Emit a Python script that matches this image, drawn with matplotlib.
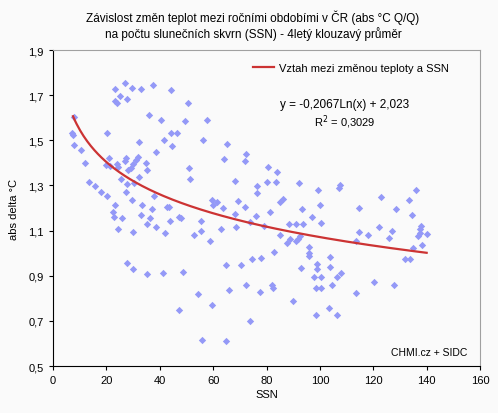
"""
plot.py - SSN vs. abs temperature change between seasons (CHMI chart remake)
"""

import numpy as np
import matplotlib
matplotlib.use("Agg")
import matplotlib.pyplot as plt

plt.rcParams['font.family'] = ['Liberation Sans', 'DejaVu Sans']

# sunspot number (4-year moving average)
ssn = [
    23.1, 27.1, 29.6, 25.0, 23.1, 24.1, 27.9, 7.9, 7.1, 7.5, 20.4, 7.9, 10.4,
    11.9, 21.0, 24.0, 26.9, 27.5, 29.1, 28.1, 25.4, 27.9, 13.4, 15.6, 18.1,
    20.4, 27.5, 23.4, 29.6, 22.5, 22.9, 25.9, 24.4, 30.1, 27.9, 30.1,
    20.0, 21.5, 24.4, 30.0, 30.4,
    32.9, 37.6, 44.4, 50.6, 36.1, 40.6, 49.4, 57.6, 44.4, 46.4, 41.6, 44.5,
    56.1, 32.1, 38.6, 31.8, 31.1, 35.0, 35.4, 32.4, 51.1, 51.4, 33.4, 37.0,
    42.7, 43.5, 38.0, 33.1, 36.4, 35.2, 38.6, 43.8, 47.2, 48.0, 55.5, 42.1,
    53.0, 55.3, 58.8, 59.4, 35.1, 41.3, 48.8, 54.3, 59.4, 47.4, 55.9,
    65.1, 64.1, 72.5, 72.1, 80.6, 84.1, 68.1, 76.6, 76.6, 80.0, 83.5, 61.4,
    59.8, 63.7, 69.5, 72.1, 86.0, 85.1, 81.4, 68.1, 76.0, 63.1, 68.5, 73.9,
    79.1, 88.4, 84.9, 87.7, 82.9, 65.0, 70.5, 74.5, 78.1, 66.0, 72.3, 77.5,
    81.9, 82.5, 73.8, 65.0,
    92.1, 99.4, 107.4, 107.1, 99.9, 93.4, 114.6, 96.9, 90.9, 93.7, 100.5,
    114.7, 118.0, 88.8, 92.7, 91.9, 90.9, 96.1, 95.9, 95.9, 103.7, 93.1,
    99.1, 99.1, 103.7, 107.8, 106.3, 97.8, 100.6, 104.6, 98.6, 100.6, 113.4,
    90.0, 103.4, 106.3, 98.4, 113.5,
    136.1, 123.0, 133.3, 128.5, 134.6, 122.2, 127.1, 125.8, 138.0, 137.6,
    137.4, 136.8, 140.1, 138.2, 134.9, 132.0, 133.6, 120.4, 127.9,
]

# abs delta °C
delta = [
    1.727, 1.753, 1.731, 1.697, 1.672, 1.665, 1.682, 1.601, 1.534, 1.524,
    1.534, 1.478, 1.456, 1.401, 1.423, 1.397, 1.409, 1.420, 1.379, 1.367,
    1.327, 1.305, 1.315, 1.299, 1.272, 1.252, 1.272, 1.213, 1.234, 1.184,
    1.160, 1.157, 1.108, 1.093, 0.956, 0.928,
    1.390, 1.385, 1.381, 1.395, 1.311,
    1.727, 1.746, 1.722, 1.666, 1.610, 1.591, 1.585, 1.592, 1.531, 1.531,
    1.503, 1.476, 1.503, 1.492, 1.446, 1.426, 1.411, 1.398, 1.369, 1.338,
    1.379, 1.330, 1.213, 1.194, 1.203, 1.203, 1.252, 1.168, 1.157, 1.130,
    1.116, 1.144, 1.160, 1.155, 1.144, 1.088, 1.080, 1.097, 1.053, 1.234,
    0.907, 0.913, 0.917, 0.817, 0.772, 0.749, 0.615,
    1.485, 1.416, 1.438, 1.409, 1.383, 1.361, 1.320, 1.298, 1.265, 1.315,
    1.315, 1.227, 1.213, 1.201, 1.231, 1.204, 1.241, 1.228, 1.184, 1.172,
    1.164, 1.108, 1.117, 1.139, 1.120, 1.130, 1.079, 1.045, 1.005, 0.946,
    0.948, 0.972, 0.979, 0.836, 0.861, 0.826, 0.857, 0.844, 0.698, 0.613,
    1.310, 1.279, 1.302, 1.287, 1.212, 1.194, 1.199, 1.160, 1.130, 1.130,
    1.135, 1.095, 1.079, 1.064, 1.076, 1.064, 1.053, 1.027, 1.002, 0.987,
    0.984, 0.934, 0.950, 0.932, 0.938, 0.913, 0.894, 0.894, 0.894, 0.861,
    0.846, 0.846, 0.824, 0.787, 0.757, 0.728, 0.724, 1.055,
    1.279, 1.249, 1.234, 1.196, 1.169, 1.117, 1.098, 1.065, 1.120, 1.105,
    1.090, 1.076, 1.086, 1.034, 1.021, 0.975, 0.975, 0.873, 0.857,
]

# log trend shown in the chart: y = a*ln(x) + b
trend_a = -0.2067
trend_b = 2.023
trend_range = [7.5, 140]

yticks = [0.5, 0.7, 0.9, 1.1, 1.3, 1.5, 1.7, 1.9]
xticks = [0, 20, 40, 60, 80, 100, 120, 140, 160]

bg = '#FAFAFA'
fig = plt.figure(figsize=(4.98, 4.14), dpi=100, facecolor=bg)
ax = fig.add_axes([0.1064, 0.1135, 0.8575, 0.7633], facecolor=bg)

ax.scatter(ssn, delta, marker='D', s=14, color='#9499F7', linewidths=0, zorder=2)

tx = np.linspace(trend_range[0], trend_range[1], 200)
ax.plot(tx, trend_a * np.log(tx) + trend_b, color='#CC3333', lw=1.6, zorder=3,
        label='Vztah mezi změnou teploty a SSN')

ax.set_xlim(0, 160)
ax.set_ylim(0.5, 1.9)
ax.set_xticks(xticks)
ax.set_yticks(yticks)
ax.set_yticklabels([f"{v:.1f}".replace('.', ',') for v in yticks])
ax.tick_params(labelsize=8, length=3, width=0.8, colors='black')

for side in ['top', 'right']:
    ax.spines[side].set_color('#A0A0A0')
for side in ['left', 'bottom']:
    ax.spines[side].set_color('black')

ax.set_xlabel('SSN', fontsize=8, labelpad=3)
ax.set_ylabel('abs delta °C', fontsize=8, labelpad=7)

fig.text(0.508, 0.958, 'Závislost změn teplot mezi ročními obdobími v ČR (abs °C Q/Q)',
         ha='center', va='center', fontsize=8.5)
fig.text(0.508, 0.918, 'na počtu slunečních skvrn (SSN) - 4letý klouzavý průměr',
         ha='center', va='center', fontsize=8.5)

ax.legend(loc='upper left', bbox_to_anchor=(0.445, 0.99), frameon=False,
          fontsize=8, handlelength=1.9, handletextpad=0.4)

ax.text(0.683, 0.829, 'y = -0,2067Ln(x) + 2,023', transform=ax.transAxes,
        ha='center', va='center', fontsize=8.5)
ax.text(0.683, 0.775, 'R$^2$ = 0,3029', transform=ax.transAxes,
        ha='center', va='center', fontsize=8)
ax.text(0.97, 0.045, 'CHMI.cz + SIDC', transform=ax.transAxes,
        ha='right', va='center', fontsize=7.5)

plt.savefig('out.png', dpi=100, facecolor=bg)
